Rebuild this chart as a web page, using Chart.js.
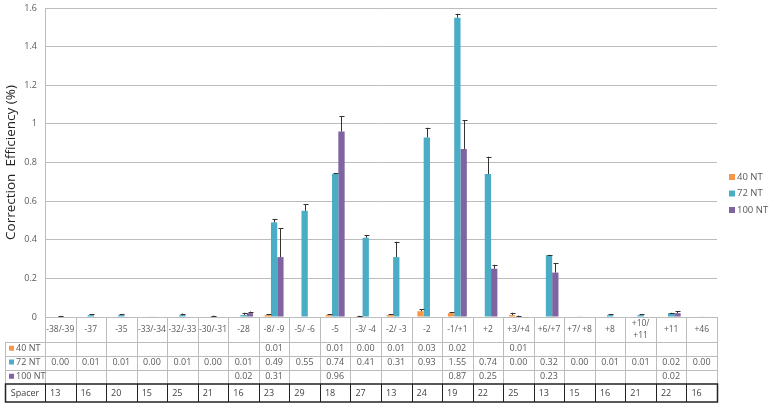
<!DOCTYPE html>
<html>
<head>
<meta charset="utf-8">
<script src="https://cdn.jsdelivr.net/npm/chart.js@4"></script>
<style>
    html, body { margin: 0; padding: 0; background: #fff; }
</style>
</head>
<body>
<canvas id="chart" width="770" height="408"></canvas>
<script>
// Categories (spacer positions)
const categories = ['-38/-39', '-37', '-35', '-33/-34', '-32/-33', '-30/-31', '-28', '-8/ -9', '-5/ -6', '-5',
    '-3/ -4', '-2/ -3', '-2', '-1/+1', '+2', '+3/+4', '+6/+7', '+7/ +8', '+8', '+10/ +11', '+11', '+46'];

// Series values (%)
const nt40 = [null, null, null, null, null, null, null, 0.01, null, 0.01, 0.004, 0.01, 0.03, 0.02, null, 0.01, null, null, null, null, null, null];
const nt72 = [0.003, 0.01, 0.01, 0.002, 0.01, 0.004, 0.01, 0.49, 0.55, 0.74, 0.41, 0.31, 0.93, 1.55, 0.74, 0.003, 0.32, 0.002, 0.01, 0.01, 0.02, 0.002];
const nt100 = [null, null, null, null, null, null, 0.02, 0.31, null, 0.96, null, null, null, 0.87, 0.25, null, 0.23, null, null, null, 0.02, null];

// Error bars (plus only)
const err40 = [0, 0, 0, 0, 0, 0, 0, 0.003, 0, 0.005, 0.002, 0.003, 0.01, 0.006, 0, 0.012, 0, 0, 0, 0, 0, 0];
const err72 = [0.003, 0.003, 0.006, 0, 0.008, 0.003, 0.012, 0.015, 0.033, 0.006, 0.015, 0.08, 0.05, 0.02, 0.09, 0.004, 0.002, 0, 0.004, 0.004, 0.002, 0];
const err100 = [0, 0, 0, 0, 0, 0, 0.008, 0.15, 0, 0.08, 0, 0, 0, 0.15, 0.02, 0, 0.05, 0, 0, 0, 0.01, 0];

// Spacer lengths
const spacer = [13, 16, 20, 15, 25, 21, 16, 23, 29, 18, 27, 13, 24, 19, 22, 25, 13, 15, 16, 21, 22, 16];

// Y axis ticks
const yMax = 1.6;
const yStep = 0.2;

const seriesNames = ['40 NT', '72 NT', '100 NT'];
const seriesColors = ['#F79646', '#4BACC6', '#8064A2'];
const seriesData = [nt40, nt72, nt100];
const seriesErr = [err40, err72, err100];

const FONT = "'Open Sans', sans-serif";
const GRID = '#bcbcbc';
const TEXT = '#595959';

// Plus error bars
const errorBarPlugin = {
    id: 'errorBars',
    afterDatasetsDraw(chart) {
        const ctx = chart.ctx;
        const y = chart.scales.y;
        ctx.save();
        ctx.strokeStyle = '#333';
        ctx.lineWidth = 1;
        seriesData.forEach((data, d) => {
            const meta = chart.getDatasetMeta(d);
            meta.data.forEach((bar, i) => {
                const v = data[i];
                const e = seriesErr[d][i];
                if (v == null || !e) return;
                const y0 = y.getPixelForValue(v);
                const y1 = y.getPixelForValue(v + e);
                const x = Math.round(bar.x) + 0.5;
                ctx.beginPath();
                ctx.moveTo(x, y0);
                ctx.lineTo(x, y1);
                ctx.moveTo(x - 2, Math.round(y1) + 0.5);
                ctx.lineTo(x + 3, Math.round(y1) + 0.5);
                ctx.stroke();
            });
        });
        ctx.restore();
    }
};

// Data table under the plot + legend on the right
const tablePlugin = {
    id: 'dataTable',
    afterDraw(chart) {
        const ctx = chart.ctx;
        const area = chart.chartArea;
        const n = categories.length;
        const colW = (area.right - area.left) / n;
        const left = 5;
        const top = area.bottom;
        const rowY = [top, top + 25, top + 38.5, top + 52.5, top + 67, top + 85];
        const colX = i => area.left + i * colW;

        ctx.save();
        ctx.lineWidth = 1;
        ctx.strokeStyle = GRID;
        ctx.beginPath();
        for (let i = 0; i <= n; i++) {
            const x = Math.round(colX(i)) + 0.5;
            ctx.moveTo(x, rowY[0]);
            ctx.lineTo(x, rowY[4]);
        }
        for (let r = 1; r <= 3; r++) {
            const yy = Math.round(rowY[r]) + 0.5;
            ctx.moveTo(left, yy);
            ctx.lineTo(area.right, yy);
        }
        ctx.moveTo(left + 0.5, rowY[1]);
        ctx.lineTo(left + 0.5, rowY[4]);
        ctx.stroke();

        // spacer row with dark border
        ctx.strokeStyle = '#222';
        ctx.lineWidth = 1.5;
        ctx.strokeRect(left + 0.5, rowY[4], area.right - left, rowY[5] - rowY[4]);
        ctx.lineWidth = 1;
        ctx.beginPath();
        for (let i = 0; i < n; i++) {
            const x = Math.round(colX(i)) + 0.5;
            ctx.moveTo(x, rowY[4]);
            ctx.lineTo(x, rowY[5]);
        }
        ctx.stroke();

        ctx.fillStyle = TEXT;
        ctx.textAlign = 'center';
        ctx.textBaseline = 'middle';

        // category labels
        ctx.font = '8.5px ' + FONT;
        categories.forEach((c, i) => {
            const cx = colX(i) + colW / 2;
            const cy = (rowY[0] + rowY[1]) / 2;
            if (ctx.measureText(c).width > colW - 3 && c.indexOf(' ') > 0) {
                const parts = c.split(' ');
                ctx.fillText(parts[0], cx, cy - 6);
                ctx.fillText(parts[1], cx, cy + 6);
            } else {
                ctx.fillText(c, cx, cy);
            }
        });

        // series rows
        ctx.font = '9px ' + FONT;
        seriesData.forEach((data, d) => {
            const cy = (rowY[d + 1] + rowY[d + 2]) / 2;
            ctx.fillStyle = seriesColors[d];
            ctx.fillRect(left + 4, cy - 3, 5, 5);
            ctx.fillStyle = TEXT;
            ctx.textAlign = 'left';
            ctx.fillText(seriesNames[d], left + 11, cy);
            ctx.textAlign = 'center';
            data.forEach((v, i) => {
                if (v == null) return;
                ctx.fillText(v.toFixed(2), colX(i) + colW / 2, cy);
            });
        });

        // spacer row
        const sy = (rowY[4] + rowY[5]) / 2;
        ctx.fillStyle = '#404040';
        ctx.fillText('Spacer', (left + area.left) / 2, sy);
        spacer.forEach((v, i) => {
            ctx.textAlign = 'left';
            ctx.fillText(String(v), colX(i) + 5, sy);
        });

        // legend
        ctx.font = '9.5px ' + FONT;
        ctx.textAlign = 'left';
        seriesNames.forEach((name, d) => {
            const ly = 177 + d * 16.5;
            ctx.fillStyle = seriesColors[d];
            ctx.fillRect(729, ly - 3, 6, 6);
            ctx.fillStyle = TEXT;
            ctx.fillText(name, 737, ly);
        });
        ctx.restore();
    }
};

const ctx = document.getElementById('chart').getContext('2d');

new Chart(ctx, {
    type: 'bar',
    data: {
        labels: categories,
        datasets: seriesData.map((data, d) => ({
            label: seriesNames[d],
            data: data,
            backgroundColor: seriesColors[d],
            borderWidth: 0,
            barPercentage: 1,
            categoryPercentage: 0.62
        }))
    },
    options: {
        responsive: false,
        animation: false,
        layout: {
            padding: { top: 8, right: 53, bottom: 91, left: 0 }
        },
        plugins: {
            legend: { display: false },
            tooltip: { enabled: false }
        },
        scales: {
            x: {
                display: false
            },
            y: {
                min: 0,
                max: yMax,
                afterFit: scale => {
                    scale.width = 45;
                    scale.paddingTop = 0;
                    scale.paddingBottom = 0;
                },
                ticks: {
                    stepSize: yStep,
                    padding: 8,
                    color: TEXT,
                    font: { family: FONT, size: 9 },
                    callback: v => String(+v.toFixed(1))
                },
                grid: {
                    color: GRID,
                    drawTicks: false
                },
                border: { color: GRID },
                title: {
                    display: true,
                    text: 'Correction  Efficiency (%)',
                    color: '#222',
                    font: { family: FONT, size: 13.5 },
                    padding: { top: 3, bottom: 0 }
                }
            }
        }
    },
    plugins: [errorBarPlugin, tablePlugin]
});
</script>
</body>
</html>
